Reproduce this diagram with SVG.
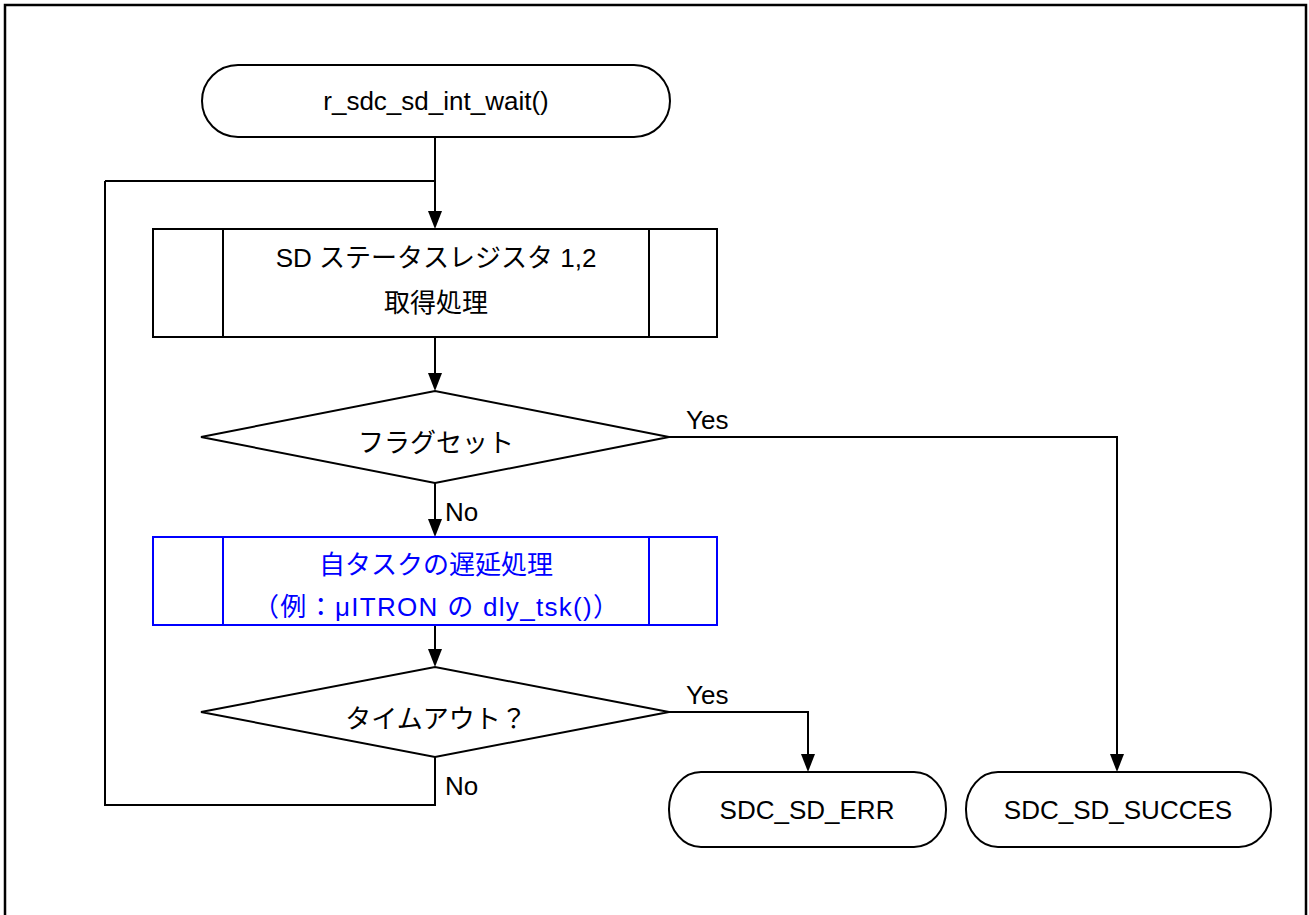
<svg xmlns="http://www.w3.org/2000/svg" width="1309" height="915" viewBox="0 0 1309 915">
<defs>
<style>
.s{fill:#fff;stroke:#000;stroke-width:2}
.b{fill:#fff;stroke:#0000ff;stroke-width:2}
.bl{stroke:#0000ff;stroke-width:2;fill:none}
.l{stroke:#000;stroke-width:2;fill:none}
.c{fill:none;stroke:#000;stroke-width:2}
.a{fill:#000}
text{font-family:"Liberation Sans","Noto Sans CJK JP",sans-serif;font-size:26px;fill:#000}
.m{text-anchor:middle}
.bt{fill:#0000ff}
</style>
</defs>
<rect x="0" y="0" width="1309" height="915" fill="#fff"/>
<path d="M5,925 L5,5 L1306,5 L1306,925" fill="none" stroke="#000" stroke-width="2.5"/>

<g id="connectors">
<path class="c" d="M435,137 L435,212"/>
<path class="a" d="M428,211 L442,211 L435,229 Z"/>
<path class="c" d="M105,181 L435,181"/>
<path class="c" d="M105,181 L105,805 L435,805 L435,757"/>
<path class="c" d="M435,337 L435,374"/>
<path class="a" d="M428,373 L442,373 L435,391 Z"/>
<path class="c" d="M435,483 L435,520"/>
<path class="a" d="M428,519 L442,519 L435,537 Z"/>
<path class="c" d="M435,625 L435,650"/>
<path class="a" d="M428,649 L442,649 L435,667 Z"/>
<path class="c" d="M669,437 L1117,437 L1117,755"/>
<path class="a" d="M1110,754 L1124,754 L1117,772 Z"/>
<path class="c" d="M669,712 L808,712 L808,755"/>
<path class="a" d="M801,754 L815,754 L808,772 Z"/>
<text x="686" y="429">Yes</text>
<text x="686" y="704">Yes</text>
<text x="445" y="521">No</text>
<text x="445" y="795">No</text>
</g>

<g id="start">
<rect class="s" x="202" y="65" width="468" height="72" rx="36" ry="36"/>
<text class="m" x="436" y="110">r_sdc_sd_int_wait()</text>
</g>

<g id="status">
<rect class="s" x="153" y="229" width="564" height="108"/>
<path class="l" d="M223,229 L223,337 M649,229 L649,337"/>
<text class="m" x="436" y="267">SD ステータスレジスタ 1,2</text>
<text class="m" x="436" y="312">取得処理</text>
</g>

<g id="flag">
<path class="s" d="M201,437 L435,391 L669,437 L435,483 Z"/>
<text class="m" x="436" y="452">フラグセット</text>
</g>

<g id="delay">
<rect class="b" x="153" y="537" width="564" height="88"/>
<path class="bl" d="M223,537 L223,625 M649,537 L649,625"/>
<text class="m bt" x="436" y="574">自タスクの遅延処理</text>
<text class="m bt" x="436" y="616" textLength="366" lengthAdjust="spacing">（例：μITRON の dly_tsk()）</text>
</g>

<g id="timeout">
<path class="s" d="M201,712 L435,667 L669,712 L435,757 Z"/>
<text class="m" x="436" y="728">タイムアウト？</text>
</g>

<g id="err">
<rect class="s" x="669" y="772" width="277" height="75" rx="32" ry="37"/>
<text class="m" x="807" y="819">SDC_SD_ERR</text>
</g>

<g id="succes">
<rect class="s" x="966" y="772" width="305" height="75" rx="32" ry="37"/>
<text class="m" x="1118" y="819">SDC_SD_SUCCES</text>
</g>
</svg>
